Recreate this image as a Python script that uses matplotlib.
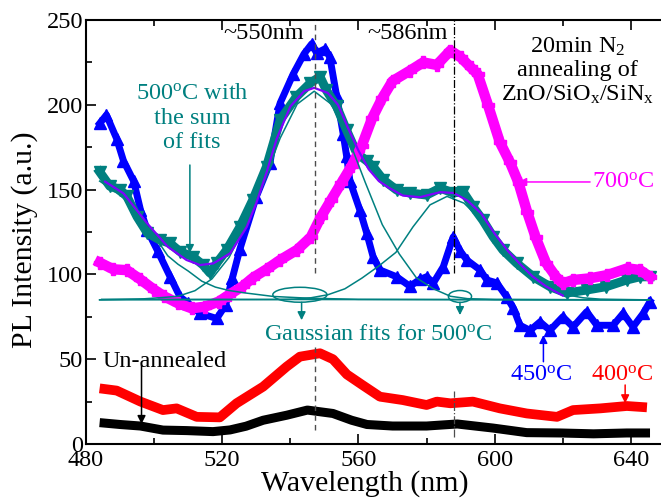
import matplotlib
matplotlib.use('Agg')
import matplotlib.pyplot as plt
from matplotlib.patches import Ellipse

plt.rcParams['font.family'] = ['Liberation Serif', 'DejaVu Serif']
plt.rcParams['mathtext.fontset'] = 'custom'
plt.rcParams['mathtext.rm'] = 'Liberation Serif'
plt.rcParams['mathtext.it'] = 'Liberation Serif:italic'

# un-annealed
wl_un = [484, 490, 496, 502.6, 509.6, 517.3, 522.3, 527, 532, 539, 545, 552.5, 558, 562.5, 570, 580, 589, 599.5, 609.4, 619.2, 629, 638.8, 645.6]
pl_un = [12.6, 11.5, 10.6, 8.2, 7.9, 7.3, 8.3, 10.5, 14, 17, 20, 18, 14, 11.5, 10.6, 10.6, 11.8, 9.4, 6.7, 6.5, 6, 6.5, 6.5]

# 400C
wl_400 = [484, 489, 496, 502.6, 506.6, 512.5, 519.3, 524.2, 532, 538.9, 542.8, 548.7, 552.5, 556.6, 561, 566.3, 573, 580, 583, 587, 593.6, 601.5, 609.4, 618.3, 623, 631, 638.8, 644.7]
pl_400 = [32.8, 31.5, 25, 20, 21, 16, 15.7, 24, 33.8, 45.6, 51.5, 53.5, 50, 41, 35, 27.9, 25.9, 23, 25, 24, 25, 21, 18, 16, 20, 21, 22.4, 21.6]

# 450C
wl_450 = [484, 486, 489, 491, 494, 496, 498, 501, 504.7, 507.6, 510, 513.5, 518.4, 521, 523, 525.2, 530, 534, 537, 540.8, 544,
          546.3, 547.7, 550.2, 551.6, 553.6, 555.5, 556.5, 557.5, 560.4, 562.4, 564.3, 566.3, 571.2, 575.1, 578, 580, 582,
          584.9, 587.8, 589.8, 591.8, 595.7, 597.7, 600.6, 603.5, 605.5, 607.4, 610.4, 613.3, 616.2, 620, 623, 627, 630,
          634.8, 637.7, 640.6, 643.6, 645.6]
pl_450 = [189, 194, 180, 167, 155, 138, 126, 114, 98.6, 86.8, 83, 77, 74, 82, 98, 115, 145.8, 165.6, 201, 218, 230,
          236, 230.5, 233, 228, 205, 183, 170, 155, 138, 124.5, 110.4, 102.6, 98.6, 93, 97, 98.6, 95,
          104.5, 122, 114, 108.5, 102.6, 96.7, 95, 86.8, 80, 70, 67, 72, 67, 75, 69, 78, 70,
          70, 77, 69, 77, 84]

# 500C data
wl_500 = [484, 487, 490, 492, 495, 498, 501.7, 504.7, 507.6, 511.4, 514.4, 516.4, 518.4, 521.3, 525.2, 529, 533, 537,
          541.8, 545.8, 548.7, 550.6, 553.6, 556.5, 559.5, 562.4, 564.3, 567.3, 571.2, 575, 580, 584, 587.8, 590.7,
          593.6, 596.5, 599.5, 602.4, 606.4, 611.3, 616.2, 621.1, 627, 632.8, 638.7, 642.6, 645.6]
pl_500 = [160.5, 152, 150, 146, 134, 124.4, 120.3, 118.3, 113.4, 110.4, 105.5, 100.8, 106.7, 114.4, 128, 144, 163.5, 191,
          204.8, 212.7, 216.6, 208.5, 199, 185, 171.4, 167, 163.5, 155.7, 149.8, 148, 146.8, 150.9, 148, 148.8,
          140, 132, 122.3, 114.4, 106.7, 98.6, 92.8, 89, 90.8, 92.8, 96.7, 98.6, 98.6]

# sum of fits for 500C
wl_sum = [485.6, 491, 498, 504, 509.5, 513.5, 517.4, 522.3, 527.2, 530, 533, 536, 540, 544, 547, 551, 554, 557, 560,
          563, 566, 569, 573, 578, 584, 588, 592, 596, 600, 604, 607.5, 611, 615, 620]
pl_sum = [154.7, 147.8, 130, 116.3, 108.5, 105.5, 106.5, 112.4, 128, 142, 160, 180, 199, 208, 210, 207, 200, 186, 173,
          162, 155, 151, 146.5, 145.5, 148.5, 148, 143.5, 136, 124, 113.5, 106, 99, 93, 87.5]

# gaussian fits for 500C
wl_base = [484.6, 645.6]
pl_base = [85.3, 85.0]
wl_g0 = [484, 487, 491, 495, 498, 501, 504, 507, 510, 514, 518, 522, 527, 535, 545, 560, 645]
pl_g0 = [155, 151, 145, 135, 128, 120, 111, 106, 102, 96, 92.5, 90.5, 89, 87, 86, 85.3, 85]
wl_g1 = [484, 497, 502, 507, 512, 517, 522, 527, 532, 537, 542, 547, 552, 557, 562, 567, 572, 577, 582, 587, 592, 600, 645]
pl_g1 = [85, 85.6, 86.3, 87.1, 90.4, 97.4, 110, 129.3, 154.2, 180.3, 200.4, 208, 200.4, 180.3, 154.2, 129.3, 112,
         98, 91.5, 87.1, 85.7, 85.2, 85]
wl_g2 = [484, 536, 541, 546, 551, 556, 561, 566, 571, 576, 581, 586, 591, 596, 601, 606, 611, 616, 621, 626, 631, 645]
pl_g2 = [85, 85.2, 85.4, 86.2, 88, 91.5, 97.8, 105, 113, 128, 141, 146, 142, 132, 119.5, 107.5, 98, 91.5,
         88, 86.2, 85.4, 85]

# 700C
wl_700 = [484, 488, 492, 496, 500, 503, 507, 511, 515, 519, 522, 526, 529, 533, 537, 542, 546, 549, 552, 555, 558, 561,
          564, 567, 570, 575, 579, 583, 587, 590, 593, 595, 598, 601.5, 604.5, 607, 609.5, 612, 615, 618, 620, 623,
          628, 633, 639, 642.6, 645.6]
pl_700 = [107, 103, 102.5, 97, 91, 87, 83, 80, 81, 84, 88, 93, 98, 103, 108.5, 114.5, 122, 134, 144, 154, 164, 176,
          192, 204, 214, 220, 225, 223.5, 232, 228, 222, 218, 200, 178, 166, 154, 137, 122, 107, 98.6, 94.7, 96.7,
          97.7, 99.6, 103.6, 102.6, 98.6]

teal = '#008080'

fig = plt.figure(figsize=(6.61, 5.01), dpi=100)
ax = fig.add_axes([86 / 661, 1 - 444 / 501, 579 / 661, 424 / 501])

ax.plot(wl_un, pl_un, color='black', lw=6.5, solid_capstyle='butt', solid_joinstyle='round', zorder=2)
ax.plot(wl_400, pl_400, color='red', lw=7, solid_capstyle='butt', solid_joinstyle='round', zorder=2)
ax.plot(wl_450, pl_450, color='blue', lw=5, marker='^', ms=9, zorder=3)
ax.plot(wl_500, pl_500, color=teal, lw=6.5, marker='v', ms=9, zorder=4)
ax.plot(wl_700, pl_700, color='#ff00ff', lw=7.5, marker='P', ms=8.5, solid_joinstyle='round', zorder=5)

for w, p in [(wl_base, pl_base), (wl_g0, pl_g0), (wl_g1, pl_g1), (wl_g2, pl_g2)]:
    ax.plot(w, p, color=teal, lw=1.1, zorder=6)
ax.plot(wl_sum, pl_sum, color='#8000ff', lw=1.6, zorder=7)

# peak marker lines
ax.plot([547.2, 547.2], [101, 250], ls=(0, (4, 3)), color='0.3', lw=1, zorder=8)
ax.plot([547.2, 547.2], [8, 57], ls=(0, (4, 3)), color='0.3', lw=1, zorder=8)
ax.plot([588, 588], [101, 250], ls='-.', color='black', lw=0.9, zorder=8)
ax.plot([588, 588], [4, 31], ls='-.', color='0.3', lw=0.9, zorder=8)

ax.add_patch(Ellipse((542.8, 88), 15.9, 8.8, fill=False, ec=teal, lw=1.1, zorder=8))
ax.add_patch(Ellipse((589.8, 87), 6.8, 7, fill=False, ec=teal, lw=1.1, zorder=8))

fs = 17.5
arr = dict(arrowstyle='-|>', lw=1.1, mutation_scale=12, shrinkA=0, shrinkB=0)
ax.annotate('', xy=(543.3, 73), xytext=(543.3, 83.5), arrowprops=dict(arr, color=teal), zorder=9)
ax.annotate('', xy=(589.8, 76), xytext=(589.8, 83.5), arrowprops=dict(arr, color=teal), zorder=9)
ax.annotate('', xy=(510.5, 112.6), xytext=(510.5, 164.5), arrowprops=dict(arr, color=teal), zorder=9)
ax.annotate('', xy=(606.9, 154.5), xytext=(628, 154.5), arrowprops=dict(arr, color='#ff00ff'), zorder=9)
ax.annotate('', xy=(614.3, 64.3), xytext=(614.3, 48.5), arrowprops=dict(arr, color='blue'), zorder=9)
ax.annotate('', xy=(638.3, 24), xytext=(638.3, 34.8), arrowprops=dict(arr, color='red'), zorder=9)
ax.annotate('', xy=(496.3, 11.8), xytext=(496.3, 46.6), arrowprops=dict(arr, color='black'), zorder=9)

ax.text(532.3, 242.3, '~550nm', fontsize=fs, ha='center', va='center')
ax.text(574.3, 242.3, '~586nm', fontsize=fs, ha='center', va='center')
ax.text(624.4, 220, '20min N$_2$\nannealing of\nZnO/SiO$_\\mathrm{x}$/SiN$_\\mathrm{x}$', fontsize=fs,
        ha='center', va='center', linespacing=1.15)
ax.text(511.1, 192.2, '500$^\\mathrm{o}$C with\nthe sum\nof fits', fontsize=fs, color=teal,
        ha='center', va='center', linespacing=1.2)
ax.text(565.8, 64.3, 'Gaussian fits for 500$^\\mathrm{o}$C', fontsize=fs, color=teal, ha='center', va='center')
ax.text(628.5, 154.5, '700$^\\mathrm{o}$C', fontsize=fs, color='#ff00ff', ha='left', va='center')
ax.text(613.8, 40.7, '450$^\\mathrm{o}$C', fontsize=fs, color='blue', ha='center', va='center')
ax.text(637.5, 40.7, '400$^\\mathrm{o}$C', fontsize=fs, color='red', ha='center', va='center')
ax.text(503.2, 48.5, 'Un-annealed', fontsize=fs, ha='center', va='center')

ax.set_xlim(480, 650)
ax.set_ylim(0, 250)
ax.set_xticks([480, 520, 560, 600, 640])
ax.set_xticks([500, 540, 580, 620], minor=True)
ax.set_yticks([0, 50, 100, 150, 200, 250])
ax.set_yticks([25, 75, 125, 175, 225], minor=True)
ax.tick_params(axis='both', which='both', direction='in', labelsize=fs, width=1.2)
ax.tick_params(axis='x', which='major', length=7, pad=4, top=True)
ax.tick_params(axis='x', which='minor', length=4, top=True)
ax.tick_params(axis='y', which='major', length=7, pad=2)
ax.tick_params(axis='y', which='minor', length=4)
for s in ax.spines.values():
    s.set_linewidth(1.5)

fig.text(25 / 661, 1 - 240 / 501, 'PL Intensity (a.u.)', fontsize=21.5, rotation=90, ha='center', va='center')
fig.text(365 / 661, 1 - 484 / 501, 'Wavelength (nm)', fontsize=21.5, ha='center', va='center')

fig.savefig('out.png', dpi=100)
